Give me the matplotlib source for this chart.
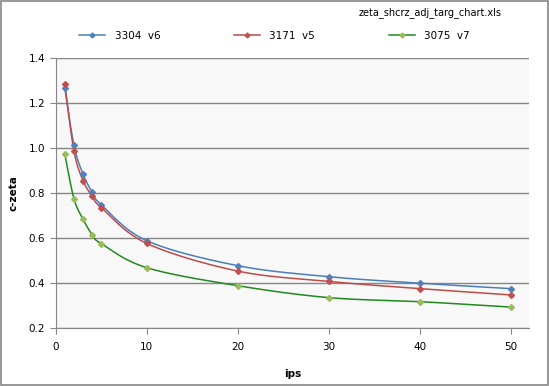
import numpy as np
import matplotlib.pyplot as plt
from matplotlib.lines import Line2D
from matplotlib.patches import Rectangle

ips = [1, 2, 3, 4, 5, 10, 20, 30, 40, 50]
zeta_3304_v6 = [1.268, 1.013, 0.884, 0.804, 0.748, 0.588, 0.477, 0.428, 0.399, 0.375]
zeta_3171_v5 = [1.284, 0.988, 0.855, 0.787, 0.735, 0.576, 0.453, 0.407, 0.375, 0.347]
zeta_3075_v7 = [0.973, 0.775, 0.684, 0.615, 0.575, 0.468, 0.388, 0.335, 0.317, 0.293]

labels = ["3304  v6", "3171  v5", "3075  v7"]
line_colors = ["#4a7ebb", "#be4b48", "#1f8a1f"]
marker_colors = ["#4f81bd", "#c0504d", "#9bbb59"]


def smooth(x, y, sx, sy, n=30):
    # Catmull-Rom through the points, done in scaled (screen-like) space
    p = np.column_stack([np.asarray(x, float) * sx, np.asarray(y, float) * sy])
    p = np.vstack([p[0], p, p[-1]])
    out = []
    for i in range(1, len(p) - 2):
        p0, p1, p2, p3 = p[i - 1], p[i], p[i + 1], p[i + 2]
        m1 = (p2 - p0) / 2
        m2 = (p3 - p1) / 2
        t = np.linspace(0, 1, n)[:, None]
        h00 = 2 * t**3 - 3 * t**2 + 1
        h10 = t**3 - 2 * t**2 + t
        h01 = -2 * t**3 + 3 * t**2
        h11 = t**3 - t**2
        out.append(h00 * p1 + h10 * m1 + h01 * p2 + h11 * m2)
    out = np.vstack(out)
    return out[:, 0] / sx, out[:, 1] / sy


fig = plt.figure(figsize=(5.49, 3.86), dpi=100)
ax = fig.add_axes([55.7 / 549, 1 - 328 / 386, (529 - 55.7) / 549, 270 / 386])
ax.set_facecolor("#f8f8f8")

series = [zeta_3304_v6, zeta_3171_v5, zeta_3075_v7]
for vals, lc, mc in zip(series, line_colors, marker_colors):
    xs, ys = smooth(ips, vals, 474 / 52, 270 / 1.2)
    ax.plot(xs, ys, color=lc, lw=1.1, zorder=3)
    ax.plot(ips, vals, ls="none", marker="D", ms=3, color=mc, zorder=4)

ax.set_xlim(0, 52)
ax.set_ylim(0.2, 1.4)
ax.set_xticks(range(0, 51, 10))
ax.set_yticks(np.arange(0.2, 1.41, 0.2))
ax.set_yticklabels([f"{v:.1f}" for v in np.arange(0.2, 1.41, 0.2)])
ax.grid(axis="y", color="#868686", lw=1)
ax.set_axisbelow(True)
for s in ["top", "right"]:
    ax.spines[s].set_visible(False)
for s in ["left", "bottom"]:
    ax.spines[s].set_color("#868686")
ax.tick_params(colors="#868686", labelcolor="black", labelsize=7.5, length=4)
ax.tick_params(axis="x", pad=6)

ax.set_xlabel("ips", fontsize=7.5, fontweight="bold", labelpad=12)
ax.set_ylabel("c-zeta", fontsize=7.5, fontweight="bold", labelpad=7.5)

fig.text(502 / 549, 1 - 13 / 386, "zeta_shcrz_adj_targ_chart.xls",
         fontsize=7, ha="right", va="center")

handles = [Line2D([], [], color=lc, lw=1.1, marker="D", ms=2.5, mfc=mc, mec=mc)
           for lc, mc in zip(line_colors, marker_colors)]
fig.legend(handles, labels, loc="center left", ncol=3, frameon=False,
           bbox_to_anchor=(70 / 549, 1 - 36 / 386, 409 / 549, 0.0001),
           mode="expand", fontsize=7.5, handlelength=2.5, handletextpad=0.9)

fig.patches.append(Rectangle((0.0015, 0.002), 0.997, 0.996, transform=fig.transFigure,
                             fill=False, edgecolor="#868686", lw=1.2))

fig.savefig("out.png", dpi=100)
